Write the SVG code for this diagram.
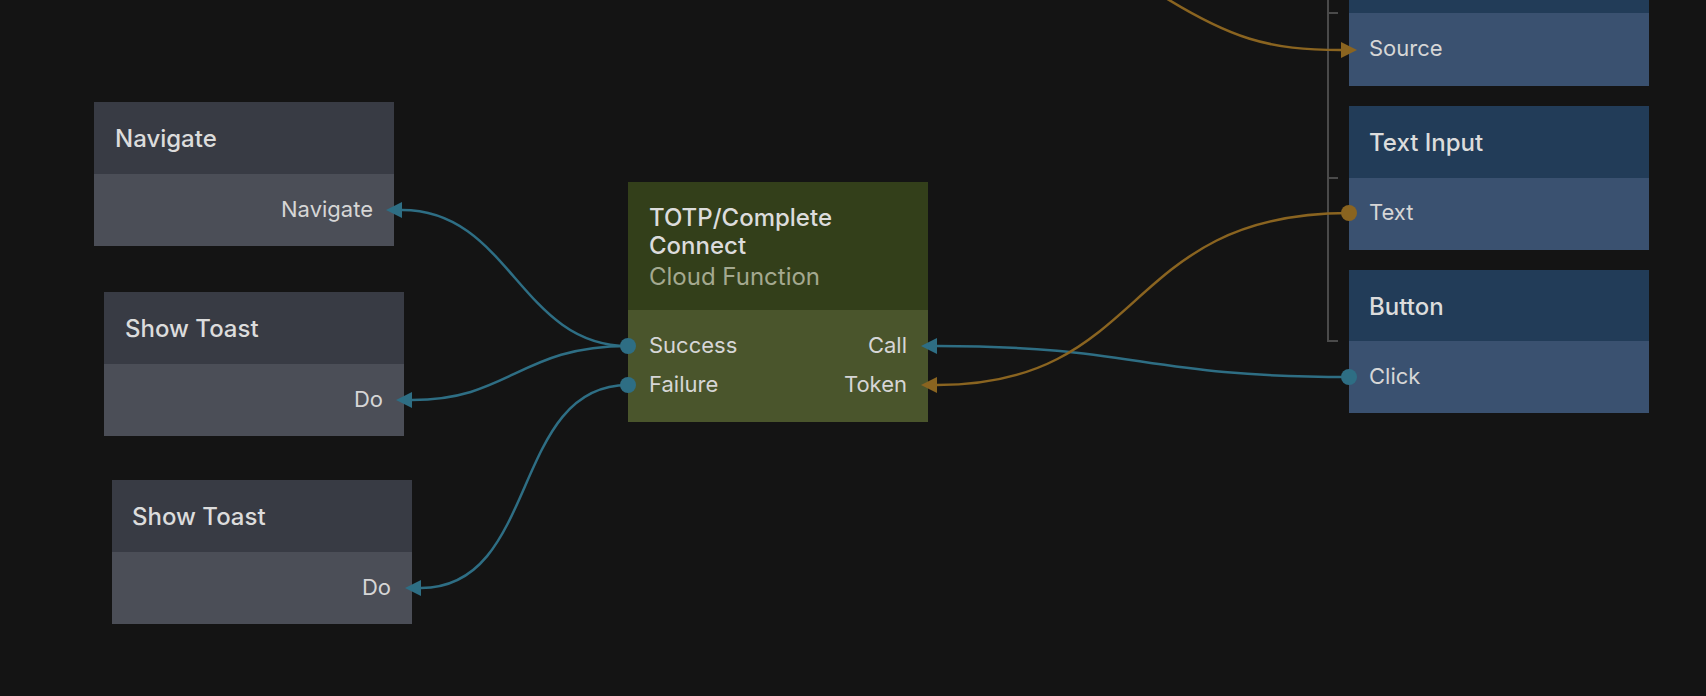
<svg xmlns="http://www.w3.org/2000/svg" width="1706" height="696" viewBox="0 0 1706 696">
<defs>
<style>
.t{font-family:Inter,"Noto Sans","Liberation Sans",sans-serif;font-size:24px;font-weight:500;fill:#dcdcdc}
.p{font-family:Inter,"Noto Sans","Liberation Sans",sans-serif;font-size:22px;fill:#d6d6d6}
.s{font-family:Inter,"Noto Sans","Liberation Sans",sans-serif;font-size:24px;fill:#a4a990}
.r{text-anchor:end}
.gh{fill:#383b44}.gb{fill:#4b4e57}
.ch{fill:#333f1a}.cb{fill:#4a552c}
.bh{fill:#223c58}.bb{fill:#3a5170}
.cb1{fill:none;stroke:#2e6e84;stroke-width:2.5}
.co{fill:none;stroke:#8a6420;stroke-width:2.5}
.db{fill:#2e6e84}.do{fill:#8a6420}
</style>
<marker id="ab" viewBox="0 0 16 16" refX="0" refY="8" markerWidth="16" markerHeight="16" markerUnits="userSpaceOnUse" orient="auto"><path d="M0,0 L16,8 L0,16 Z" fill="#2e6e84"/></marker>
<marker id="ao" viewBox="0 0 16 16" refX="0" refY="8" markerWidth="16" markerHeight="16" markerUnits="userSpaceOnUse" orient="auto"><path d="M0,0 L16,8 L0,16 Z" fill="#8a6420"/></marker>
</defs>
<rect width="1706" height="696" fill="#141414"/>
<path d="M1328,0 V341 H1338 M1328,13 H1338 M1328,178 H1338" fill="none" stroke="#4a4a4a" stroke-width="2"/>
<g id="navigate">
<rect class="gh" x="94" y="102" width="300" height="72"/>
<rect class="gb" x="94" y="174" width="300" height="72"/>
<text class="t" x="115" y="147">Navigate</text>
<text class="p r" x="373" y="217">Navigate</text>
</g>
<g id="toast1">
<rect class="gh" x="104" y="292" width="300" height="72"/>
<rect class="gb" x="104" y="364" width="300" height="72"/>
<text class="t" x="125" y="337">Show Toast</text>
<text class="p r" x="383" y="407">Do</text>
</g>
<g id="toast2">
<rect class="gh" x="112" y="480" width="300" height="72"/>
<rect class="gb" x="112" y="552" width="300" height="72"/>
<text class="t" x="132" y="525">Show Toast</text>
<text class="p r" x="391" y="595">Do</text>
</g>
<g id="cloudfn">
<rect class="ch" x="628" y="182" width="300" height="128"/>
<rect class="cb" x="628" y="310" width="300" height="112"/>
<text class="t" x="649" y="226">TOTP/Complete</text>
<text class="t" x="649" y="254">Connect</text>
<text class="s" x="649" y="285">Cloud Function</text>
<text class="p" x="649" y="353">Success</text>
<text class="p" x="649" y="392">Failure</text>
<text class="p r" x="907" y="353">Call</text>
<text class="p r" x="907" y="392">Token</text>
</g>
<g id="topnode">
<rect class="bh" x="1349" y="-60" width="300" height="73"/>
<rect class="bb" x="1349" y="13" width="300" height="73"/>
<text class="p" x="1369" y="56">Source</text>
</g>
<g id="textinput">
<rect class="bh" x="1349" y="106" width="300" height="72"/>
<rect class="bb" x="1349" y="178" width="300" height="72"/>
<text class="t" x="1369" y="151">Text Input</text>
<text class="p" x="1369" y="220">Text</text>
</g>
<g id="button">
<rect class="bh" x="1349" y="270" width="300" height="71"/>
<rect class="bb" x="1349" y="341" width="300" height="72"/>
<text class="t" x="1369" y="315">Button</text>
<text class="p" x="1369" y="384">Click</text>
</g>
<g id="connectors">
<path class="cb1" d="M628,346 C520,346 510,210 402,210" marker-end="url(#ab)"/>
<path class="cb1" d="M628,346 C520,346 510,400 412,400" marker-end="url(#ab)"/>
<path class="cb1" d="M628,385 C510,385 540,588 421,588" marker-end="url(#ab)"/>
<path class="cb1" d="M1349,377 C1140,377 1140,346 937,346" marker-end="url(#ab)"/>
<path class="co" d="M1349,213 C1120,213 1150,385 937,385" marker-end="url(#ao)"/>
<path class="co" d="M1150,-12 C1230,40 1270,50 1341,50" marker-end="url(#ao)"/>
<circle class="db" cx="628" cy="346" r="8"/>
<circle class="db" cx="628" cy="385" r="8"/>
<circle class="db" cx="1349" cy="377" r="8"/>
<circle class="do" cx="1349" cy="213" r="8"/>
</g>
</svg>
